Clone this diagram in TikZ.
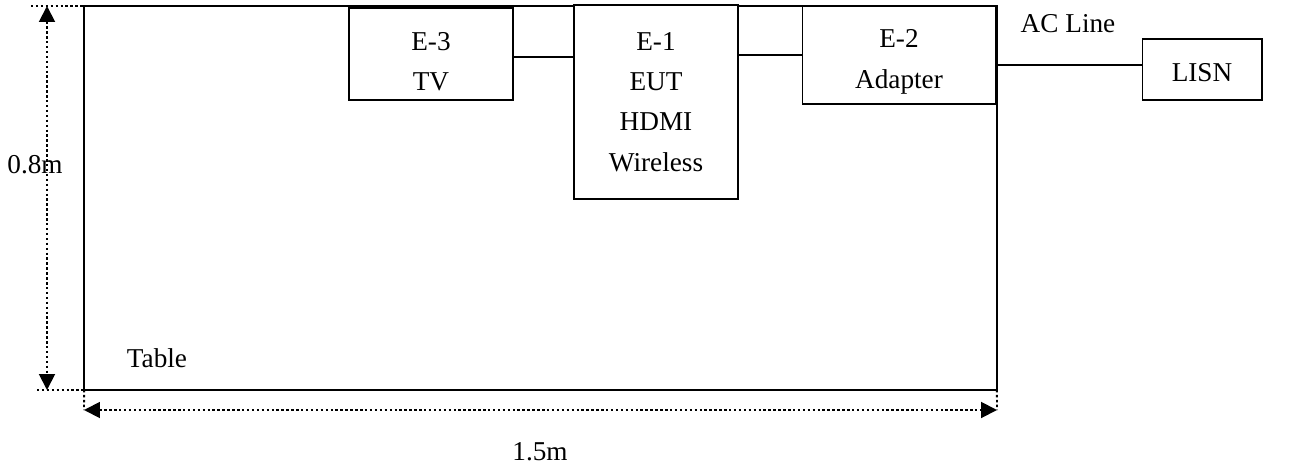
\documentclass[tikz,border=0pt]{standalone}
\usepackage{fontspec}
\setmainfont{Liberation Serif}
\usepackage{tikz}
\usetikzlibrary{arrows.meta,positioning,calc}

\begin{document}
\begin{tikzpicture}[x=0.02cm,y=-0.02cm,
        box/.style={draw=black,line width=0.6pt,fill=white,inner sep=0pt,outer sep=0pt,
                    font=\fontsize{15.5}{23}\selectfont,align=center},
        tbl/.style={draw=black,line width=0.9pt,inner sep=0pt,outer sep=0pt,
                    minimum width=18.26cm,minimum height=7.68cm},
        dim/.style={{Triangle[length=9pt,width=9pt]}-{Triangle[length=9pt,width=9pt]},
                    black,line width=1.1pt,dash pattern=on 1.4pt off 1.4pt},
        ext/.style={black,line width=1.1pt,dash pattern=on 1.4pt off 1.4pt},
        wire/.style={black,line width=0.6pt},
        lbl/.style={font=\fontsize{15.5}{18}\selectfont,inner sep=0pt}
      ]
        \useasboundingbox (0,0) rectangle (1291,466);
        % table outline
        \node[tbl] (table) at (540.5,198) {};
        \node[lbl] (tlbl) at (157,358) {Table};
        % equipment on the table
        \node[box,minimum width=3.28cm,minimum height=1.84cm,text height=42pt] (e3) at (431,54) {E-3\\TV};
        \node[box,minimum width=3.28cm,minimum height=3.88cm] (e1) at (656,102) {E-1\\EUT\\HDMI\\Wireless};
        \node[box,minimum width=3.86cm,minimum height=1.96cm,text height=41pt] (e2) at (899,55) {E-2\\Adapter};
        \node[box,minimum width=2.40cm,minimum height=1.22cm,text height=14pt] (lisn) at (1202,69.5) {LISN};
        \node[lbl] (acl) at (1068,24) {AC Line};
        \draw[wire] ([yshift=-0.06cm]e3.east) -- ([yshift=-0.06cm]e3.east -| e1.west);
        \draw[wire] (e1.east |- e2.west) -- (e2.west);
        \draw[wire] ([yshift=0.09cm]e2.east |- lisn.west) -- ([yshift=0.09cm]lisn.west);
        % dimensions
        \coordinate (vt) at (47,6);
        \coordinate (vb) at (47,390);
        \coordinate (hl) at (84,410);
        \coordinate (hr) at (997,410);
        \draw[ext] (31,6) -- (100,6);
        \draw[ext] (37,390) -- (107,390);
        \draw[ext] (table.south west) -- (hl);
        \draw[ext] (table.south east) -- (hr);
        \draw[dim] (vt) -- (vb);
        \draw[dim] (hl) -- (hr);
        \node[lbl] (h) at (35,165) {0.8m};
        \node[lbl] (w) at (540,452) {1.5m};
      \end{tikzpicture}
\end{document}
